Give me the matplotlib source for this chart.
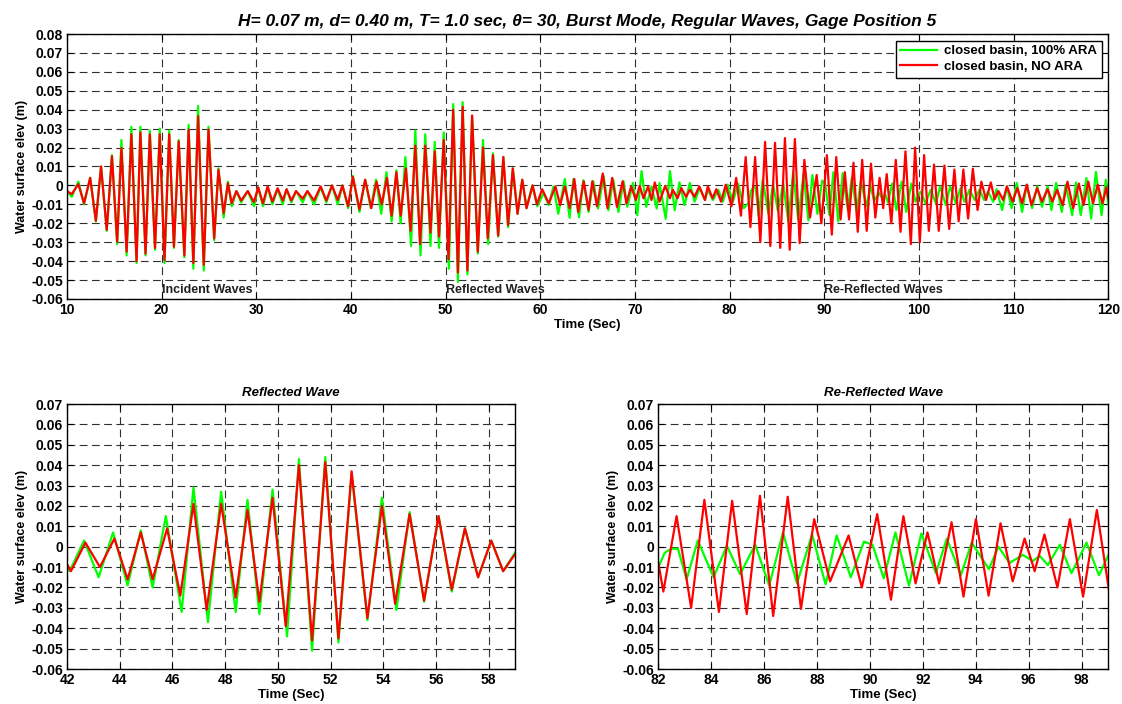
import matplotlib
matplotlib.use("Agg")
import matplotlib.pyplot as plt
import numpy as np

plt.rcParams['font.family'] = ['Liberation Sans', 'DejaVu Sans']

# wave crests / troughs (time in sec, elevation in m)
green_time = [
    10.0, 10.5, 11.2, 11.8, 12.45, 13.05, 13.6, 14.2, 14.75, 15.3, 15.75, 16.3, 16.8, 17.35, 17.75, 18.3, 18.75, 19.3, 19.8,
    20.3, 20.8, 21.3, 21.8, 22.4, 22.85, 23.35, 23.85, 24.45, 24.95, 25.55, 26.0, 26.55, 27.0, 27.4, 27.9, 28.4, 29.1, 29.75,
    30.2, 30.7, 31.2, 31.7, 32.25, 32.8, 33.2, 33.7, 34.2, 34.9, 35.4, 36.1, 36.8, 37.4, 38.0, 38.6, 39.1, 39.7, 40.2, 40.9, 41.5,
    42.1, 42.65, 43.2, 43.75, 44.3, 44.8, 45.25, 45.75, 46.35, 46.8, 47.35, 47.85, 48.4, 48.85, 49.3, 49.8, 50.35, 50.8,
    51.3, 51.8, 52.3, 52.8, 53.4, 53.95, 54.5, 55.0, 55.55, 56.1, 56.6, 57.1, 57.6, 58.1, 58.55, 59.15, 59.7,
    60.35, 60.9, 61.4, 61.9, 62.6, 63.1, 63.5, 64.1, 64.55, 65.1, 65.6, 66.1, 66.7, 67.2, 67.7, 68.25, 68.8, 69.2, 69.8, 70.25,
    70.7, 71.2, 71.75, 72.3, 72.6, 73.25, 73.7, 74.2, 74.7, 75.25, 75.8, 76.3, 76.85, 77.4, 77.7, 78.25, 78.8, 79.3, 79.8, 80.35,
    80.9, 81.5,
    82.05, 82.25, 82.5, 82.75, 83.08, 83.5, 84.1, 84.6, 85.1, 85.67, 86.2, 86.72, 87.25, 87.82, 88.33, 88.75, 89.28, 89.78,
    90.1, 90.53, 90.97, 91.48, 91.95, 92.5, 92.91, 93.44, 93.85, 94.5, 94.86, 95.28, 95.78, 96.16, 96.42, 96.73, 97.18,
    97.62, 98.19, 98.66, 99.2, 99.64,
    100.2, 100.7, 101.25, 101.8, 102.25, 102.85, 103.3, 103.9, 104.4, 104.8, 105.35, 105.9, 106.4, 106.9, 107.3, 107.85,
    108.2, 108.8, 109.3, 109.8, 110.35, 110.9, 111.4, 111.96, 112.5, 113.0, 113.6, 114.0, 114.5, 115.1, 115.5, 116.2,
    116.6, 117.1, 117.7, 118.2, 118.7, 119.3, 119.75, 120.0,
]
green_elev = [
    -0.003, -0.006, 0.002, -0.010, 0.004, -0.019, 0.010, -0.024, 0.016, -0.031, 0.024, -0.037, 0.031, -0.041, 0.031, -0.037, 0.029, -0.034, 0.030,
    -0.041, 0.029, -0.033, 0.024, -0.038, 0.032, -0.044, 0.042, -0.045, 0.031, -0.029, 0.009, -0.017, 0.002, -0.011, -0.003, -0.009, -0.003, -0.011,
    -0.001, -0.011, -0.001, -0.010, -0.002, -0.010, -0.002, -0.009, -0.003, -0.009, -0.003, -0.010, -0.001, -0.009, 0.000, -0.010, 0.000, -0.012, 0.005, -0.014, 0.003,
    -0.012, 0.003, -0.015, 0.007, -0.019, 0.008, -0.020, 0.015, -0.032, 0.029, -0.037, 0.027, -0.032, 0.023, -0.033, 0.028, -0.044, 0.043,
    -0.051, 0.044, -0.047, 0.036, -0.036, 0.024, -0.031, 0.017, -0.027, 0.015, -0.022, 0.009, -0.015, 0.003, -0.012, 0.000, -0.011,
    -0.004, -0.0104, -0.0005, -0.015, 0.0034, -0.0171, 0.0034, -0.0168, 0.0027, -0.014, 0.0022, -0.0122, 0.0049, -0.0131, 0.0031, -0.014, 0.0022, -0.0113, 0.0013, -0.0158,
    0.0076, -0.0113, -0.0005, -0.0122, 0.0013, -0.0176, 0.0076, -0.0131, 0.0016, -0.0104, 0.0013, -0.0086, -0.0014, -0.0077, -0.0023, -0.0077, -0.0023, -0.0086, 0.0004, -0.0086,
    0.001, -0.012,
    -0.009, -0.003, -0.001, -0.001, -0.016, 0.003, -0.015, 0.0005, -0.0135, 0.001, -0.019, 0.007, -0.018, 0.006, -0.0185, 0.0055, -0.015, 0.0025,
    0.001, -0.0155, 0.007, -0.019, 0.0065, -0.013, 0.004, -0.014, 0.002, -0.011, 0.000, -0.008, -0.004, -0.007, -0.0045, -0.009, 0.001,
    -0.013, 0.002, -0.014, 0.001, -0.0086,
    -0.0032, -0.0095, -0.0023, -0.0095, -0.0005, -0.0104, -0.0005, -0.0095, -0.0014, -0.0086, -0.0023, -0.0077, -0.0023, -0.0077, -0.0032, -0.0086,
    -0.002, -0.013, -0.0005, -0.012, 0.0013, -0.014, 0.0004, -0.012, -0.0005, -0.0113, -0.0005, -0.013, 0.0013, -0.014, 0.0004, -0.0157,
    0.0016, -0.0157, 0.0039, -0.0175, 0.0071, -0.0157, 0.003, -0.010,
]

red_time = [
    10.0, 10.5, 11.2, 11.8, 12.45, 13.05, 13.6, 14.2, 14.75, 15.3, 15.75, 16.3, 16.8, 17.35, 17.75, 18.3, 18.75, 19.3, 19.8,
    20.3, 20.8, 21.3, 21.8, 22.4, 22.85, 23.35, 23.85, 24.45, 24.95, 25.55, 26.0, 26.55, 27.0, 27.4, 27.9, 28.4, 29.1, 29.75,
    30.2, 30.7, 31.2, 31.7, 32.25, 32.8, 33.2, 33.7, 34.2, 34.9, 35.4, 36.1, 36.8, 37.4, 38.0, 38.6, 39.1, 39.7, 40.2, 40.9, 41.5,
    42.15, 42.7, 43.25, 43.8, 44.3, 44.8, 45.25, 45.8, 46.3, 46.8, 47.3, 47.85, 48.4, 48.85, 49.3, 49.8, 50.3, 50.8,
    51.3, 51.8, 52.3, 52.8, 53.4, 53.95, 54.45, 55.0, 55.55, 56.1, 56.6, 57.1, 57.6, 58.1, 58.55, 59.2, 59.65,
    60.2, 60.9, 61.6, 62.1, 62.6, 63.1, 63.6, 64.0, 64.6, 65.1, 65.5, 66.0, 66.6, 67.1, 67.6, 68.1, 68.7, 69.1, 69.6, 70.1,
    70.5, 70.9, 71.4, 71.75, 72.1, 72.6, 73.2, 73.7, 74.0, 74.5, 74.9, 75.4, 75.8, 76.3, 76.8, 77.4, 77.7, 78.2, 78.6, 79.1,
    79.6, 80.2, 80.7, 81.2, 81.7,
    82.2, 82.7, 83.25, 83.75, 84.3, 84.8, 85.35, 85.85, 86.35, 86.9, 87.4, 87.9, 88.5, 89.2, 89.7, 90.28, 90.8, 91.27,
    91.73, 92.18, 92.62, 93.09, 93.54, 94.01, 94.49, 94.94, 95.4, 95.85, 96.23, 96.6, 97.09, 97.56, 98.06, 98.58, 99.15,
    99.6, 100.1, 100.55, 101.05, 101.6, 102.1, 102.7, 103.2, 103.75, 104.2, 104.7, 105.2, 105.7, 106.2, 106.6, 107.1,
    107.6, 108.0, 108.4, 108.9, 109.3, 109.9, 110.4, 110.9, 111.4, 111.9, 112.5, 113.0, 113.6, 114.1, 114.6, 115.2,
    115.7, 116.3, 116.9, 117.4, 117.9, 118.4, 118.9, 119.4, 119.8, 120.0,
]
red_elev = [
    -0.003, -0.0046, 0.0007, -0.0094, 0.004, -0.0187, 0.010, -0.0235, 0.0154, -0.0297, 0.0198, -0.035, 0.027, -0.040, 0.028, -0.036, 0.027, -0.033, 0.027,
    -0.0395, 0.027, -0.0324, 0.0233, -0.037, 0.0295, -0.041, 0.0366, -0.042, 0.0295, -0.028, 0.0083, -0.0147, 0.0012, -0.0094, -0.003, -0.008, -0.003, -0.0088,
    -0.001, -0.0095, -0.0005, -0.0086, -0.0015, -0.008, -0.002, -0.008, -0.003, -0.007, -0.003, -0.008, -0.0005, -0.008, 0.000, -0.0077, 0.000, -0.011, 0.0045, -0.0127, 0.003,
    -0.012, 0.002, -0.010, 0.004, -0.016, 0.007, -0.016, 0.009, -0.024, 0.021, -0.031, 0.021, -0.025, 0.018, -0.027, 0.024, -0.039, 0.040,
    -0.046, 0.0415, -0.045, 0.037, -0.035, 0.020, -0.028, 0.016, -0.0265, 0.015, -0.021, 0.009, -0.015, 0.003, -0.012, 0.000, -0.010,
    -0.002, -0.0095, -0.0005, -0.0104, -0.0005, -0.012, 0.0034, -0.014, 0.0022, -0.013, 0.0022, -0.011, 0.0063, -0.012, 0.004, -0.0113, 0.0022, -0.0095, -0.0005, -0.0077,
    -0.0002, -0.0068, -0.0005, -0.0077, 0.0016, -0.0086, -0.0002, -0.0068, -0.0023, -0.0068, -0.0014, -0.006, -0.0023, -0.006, -0.0005, -0.0077, -0.0005, -0.0068, -0.002, -0.0086,
    0.0004, -0.011, 0.004, -0.016, 0.015,
    -0.022, 0.015, -0.030, 0.023, -0.032, 0.0225, -0.033, 0.025, -0.034, 0.0245, -0.0305, 0.0135, -0.017, 0.0055, -0.020, 0.016, -0.026, 0.015,
    -0.018, 0.007, -0.018, 0.012, -0.0245, 0.0135, -0.024, 0.0115, -0.017, 0.004, -0.012, 0.006, -0.020, 0.0135, -0.0245, 0.018, -0.031,
    0.020, -0.030, 0.016, -0.024, 0.011, -0.024, 0.0105, -0.023, 0.0084, -0.019, 0.0084, -0.0175, 0.0088, -0.013, 0.002, -0.0077,
    0.0016, -0.0073, -0.003, -0.0077, -0.0005, -0.0086, -0.0014, -0.0095, 0.0004, -0.0104, -0.0014, -0.0086, -0.002, -0.0086, -0.0023, -0.0104,
    0.002, -0.012, 0.001, -0.0104, 0.002, -0.0095, 0.0004, -0.0095, -0.001, -0.0068,
]

series_labels = ['closed basin, 100% ARA', 'closed basin, NO ARA']
burst_labels = ['Incident Waves', 'Reflected Waves', 'Re-Reflected Waves']
burst_starts = [20, 50, 90]

top_xticks = list(range(10, 121, 10))
top_yticks = [round(v, 2) for v in np.arange(-0.06, 0.081, 0.01)]
refl_xticks = list(range(42, 59, 2))
rerefl_xticks = list(range(82, 99, 2))
zoom_yticks = [round(v, 2) for v in np.arange(-0.06, 0.071, 0.01)]

main_title = ('H= 0.07 m, d= 0.40 m, T= 1.0 sec, \u03b8= 30, Burst Mode, '
              'Regular Waves, Gage Position 5')


def tick_text(v):
    return '0' if abs(v) < 1e-9 else f'{v:g}'


def style_axes(ax, xlim, ylim, xticks, yticks):
    ax.set_xlim(xlim)
    ax.set_ylim(ylim)
    ax.set_xticks(xticks)
    ax.set_yticks(yticks)
    ax.set_yticklabels([tick_text(v) for v in yticks])
    ax.tick_params(direction='in', top=True, right=True, length=4, width=0.8,
                   labelsize=10, pad=3)
    for lbl in ax.get_xticklabels() + ax.get_yticklabels():
        lbl.set_fontweight('bold')
    ax.grid(True, color='#303030', linewidth=0.8, linestyle=(0, (7, 4)))
    ax.set_axisbelow(True)
    for sp in ax.spines.values():
        sp.set_linewidth(1.0)
        sp.set_color('k')
    ax.set_ylabel('Water surface elev (m)', fontsize=9, fontweight='bold', labelpad=2)
    ax.set_xlabel('Time (Sec)', fontsize=9.5, fontweight='bold', labelpad=1)


def draw_series(ax):
    ax.plot(green_time, green_elev, color='#00ff00', lw=1.6, label=series_labels[0],
            solid_joinstyle='round')
    ax.plot(red_time, red_elev, color='#ff0000', lw=1.6, label=series_labels[1],
            solid_joinstyle='round')


fig = plt.figure(figsize=(11.22, 7.04), dpi=100)

ax_top = fig.add_axes([0.0597, 0.5753, 0.928, 0.3764])
draw_series(ax_top)
style_axes(ax_top, (10, 120), (-0.06, 0.08), top_xticks, top_yticks)
ax_top.set_title(main_title, fontsize=12.5, fontweight='bold', fontstyle='italic', pad=6)
for x0, txt in zip(burst_starts, burst_labels):
    ax_top.text(x0, -0.055, txt, ha='left', va='center', fontsize=9,
                fontweight='bold', color='#202020')
leg = ax_top.legend(loc='upper right', fancybox=False, edgecolor='k', framealpha=1,
                    borderaxespad=0.5, handlelength=2.8, handletextpad=0.5,
                    borderpad=0.35, labelspacing=0.25,
                    prop={'size': 9.5, 'weight': 'bold'})
leg.get_frame().set_linewidth(1.0)

ax_refl = fig.add_axes([0.0597, 0.0497, 0.3993, 0.3764])
draw_series(ax_refl)
style_axes(ax_refl, (42, 59), (-0.06, 0.07), refl_xticks, zoom_yticks)
ax_refl.set_title('Reflected Wave', fontsize=9.5, fontweight='bold', fontstyle='italic', pad=6)

ax_rerefl = fig.add_axes([0.5865, 0.0497, 0.401, 0.3764])
draw_series(ax_rerefl)
style_axes(ax_rerefl, (82, 99), (-0.06, 0.07), rerefl_xticks, zoom_yticks)
ax_rerefl.set_title('Re-Reflected Wave', fontsize=9.5, fontweight='bold', fontstyle='italic', pad=6)

fig.savefig('out.png', dpi=100)
